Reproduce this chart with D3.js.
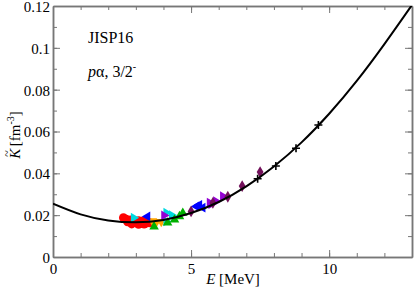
<!DOCTYPE html>
<html>
<head>
<meta charset="utf-8">
<script src="https://cdn.jsdelivr.net/npm/d3@7"></script>
<style>
  body { margin: 0; background: #fff; }
  svg text { font-family: "Liberation Serif", "Times New Roman", Times, "DejaVu Serif", serif !important; }
</style>
</head>
<body>
<div id="chart"></div>
<script>
// fitted curve
const curveE = [0, 1, 2, 3, 4, 5, 6, 7, 8, 9, 10, 11, 12, 13];
const curveK = [0.0255, 0.0204, 0.0175, 0.0166, 0.0177, 0.0210, 0.0263, 0.0338, 0.0433, 0.0548, 0.0685, 0.0842, 0.1018, 0.1205];

// data points, one pair of arrays per marker set
const redE = [2.55, 2.65, 2.8, 2.95, 3.1, 3.25, 3.4, 2.7, 2.9, 3.05, 3.2, 3.35, 3.5, 2.85, 3.1, 3.3];
const redK = [0.0188, 0.0181, 0.0177, 0.0174, 0.0173, 0.0172, 0.0172, 0.0168, 0.0164, 0.0162, 0.0161, 0.0161, 0.0163, 0.0158, 0.0156, 0.0157];
const orangeE = [3.6, 3.75, 3.92];
const orangeK = [0.0172, 0.0168, 0.0169];
const cyanE = [2.92, 4.1, 4.1, 4.3];
const cyanK = [0.0188, 0.0170, 0.0212, 0.0200];
const greenE = [3.66, 4.15, 4.4, 4.58, 4.7];
const greenK = [0.0145, 0.0164, 0.0178, 0.0194, 0.0210];
const blueE = [3.42, 5.19, 5.3, 5.42];
const blueK = [0.0194, 0.0242, 0.0250, 0.0236];
const violetE = [4.02, 5.67, 5.73, 5.9, 6.15];
const violetK = [0.0199, 0.0260, 0.0252, 0.0267, 0.0291];
const diamondE = [5.0, 5.79, 6.33, 6.85, 7.5];
const diamondK = [0.0218, 0.0259, 0.0288, 0.0339, 0.0406];
const crossE = [7.41, 8.07, 8.8, 9.61];
const crossK = [0.0374, 0.0435, 0.0520, 0.0631];

const xTicks = [0, 5, 10];
const yTicks = [0, 0.02, 0.04, 0.06, 0.08, 0.1, 0.12];

const width = 415;
const height = 290;
const margin = { top: 6, right: 3, bottom: 33, left: 53 };
const frameColor = '#777';

const svg = d3.select('#chart').append('svg')
    .attr('width', width)
    .attr('height', height);

const x = d3.scaleLinear([0, 13], [margin.left, width - margin.right]);
const y = d3.scaleLinear([0, 0.12], [height - margin.bottom, margin.top]);

// clip so the curve stays inside the frame
svg.append('clipPath').attr('id', 'clip')
  .append('rect')
    .attr('x', x(0)).attr('y', y(0.12))
    .attr('width', x(13) - x(0)).attr('height', y(0) - y(0.12));

// ticks on all four sides, pointing inwards
function drawAxis(axisFn, scale, translate, values, size, labels) {
  const g = svg.append('g')
      .attr('transform', translate)
      .call(axisFn(scale).tickValues(values).tickSize(-size).tickSizeOuter(0)
        .tickFormat(labels ? (d => d === 0 ? '0' : String(d)) : ''));
  g.attr('font-family', null);
  g.select('.domain').attr('stroke', frameColor).attr('stroke-width', 1.5);
  g.selectAll('.tick line').attr('stroke', frameColor);
  g.selectAll('.tick text').attr('fill', '#000').style('font-size', '15px');
  return g;
}

const xMinor = d3.range(0, 14);
const yMinor = d3.range(0, 13).map(i => i / 100);

drawAxis(d3.axisBottom, x, `translate(0,${y(0)})`, xMinor, 4, false);
const gx = drawAxis(d3.axisBottom, x, `translate(0,${y(0)})`, xTicks, 7, true);
gx.selectAll('.tick text').attr('dy', '0.9em').attr('y', 3);
drawAxis(d3.axisTop, x, `translate(0,${y(0.12)})`, xMinor, 4, false);
drawAxis(d3.axisTop, x, `translate(0,${y(0.12)})`, xTicks, 7, false);

drawAxis(d3.axisLeft, y, `translate(${x(0)},0)`, yMinor, 4, false);
const gy = drawAxis(d3.axisLeft, y, `translate(${x(0)},0)`, yTicks, 7, true);
gy.selectAll('.tick text').attr('x', -3).attr('dy', '0.36em');
drawAxis(d3.axisRight, y, `translate(${x(13)},0)`, yMinor, 4, false);
drawAxis(d3.axisRight, y, `translate(${x(13)},0)`, yTicks, 7, false);

// markers
const sets = [
  { E: redE, K: redK, color: '#ff0000', type: d3.symbolCircle, size: 62, rot: 0 },
  { E: orangeE, K: orangeK, color: '#ffa500', type: d3.symbolTriangle, size: 40, rot: 180 },
  { E: cyanE, K: cyanK, color: '#00d8e0', type: d3.symbolTriangle, size: 40, rot: 90 },
  { E: greenE, K: greenK, color: '#00b000', type: d3.symbolTriangle, size: 40, rot: 0 },
  { E: blueE, K: blueK, color: '#0000ff', type: d3.symbolTriangle, size: 40, rot: -90 },
  { E: violetE, K: violetK, color: '#9400d3', type: d3.symbolTriangle, size: 40, rot: 90 },
  { E: diamondE, K: diamondK, color: '#72105a', type: d3.symbolDiamond, size: 40, rot: 0 }
];

const marks = svg.append('g');
sets.forEach(s => {
  marks.selectAll(null)
    .data(s.E.map((e, i) => [e, s.K[i]]))
    .join('path')
      .attr('d', d3.symbol(s.type, s.size))
      .attr('transform', d => `translate(${x(d[0])},${y(d[1])}) rotate(${s.rot})`)
      .attr('fill', s.color);
});

// the fitted curve
svg.append('path')
    .datum(curveE.map((e, i) => [e, curveK[i]]))
    .attr('clip-path', 'url(#clip)')
    .attr('fill', 'none')
    .attr('stroke', '#000')
    .attr('stroke-width', 2)
    .attr('d', d3.line().x(d => x(d[0])).y(d => y(d[1])).curve(d3.curveNatural));

// black plus markers
svg.append('g').selectAll('path')
  .data(crossE.map((e, i) => [e, crossK[i]]))
  .join('path')
    .attr('transform', d => `translate(${x(d[0])},${y(d[1])})`)
    .attr('d', 'M-4,0H4M0,-4V4')
    .attr('stroke', '#000')
    .attr('stroke-width', 1.6);

// labels inside the plot
svg.append('text')
    .attr('x', 88).attr('y', 43)
    .style('font-size', '16px')
    .text('JISP16');

const t2 = svg.append('text')
    .attr('x', 88).attr('y', 77)
    .style('font-size', '16px');
t2.append('tspan').style('font-style', 'italic').text('p');
t2.append('tspan').text('α, 3/2');
t2.append('tspan').attr('dy', -7).style('font-size', '10px').text('-');

// axis titles
const xl = svg.append('text')
    .attr('x', 233).attr('y', 284)
    .attr('text-anchor', 'middle')
    .style('font-size', '15px');
xl.append('tspan').style('font-style', 'italic').text('E');
xl.append('tspan').text(' [MeV]');

// y title: K with a tilde placed above it
const yl = svg.append('text')
    .attr('transform', 'translate(20,135) rotate(-90)')
    .attr('text-anchor', 'middle')
    .style('font-size', '15px');
yl.append('tspan').style('font-style', 'italic').text('K');
yl.append('tspan').attr('dx', -8).attr('dy', -9).style('font-size', '12px').text('~');
yl.append('tspan').attr('dx', 4).attr('dy', 9).text('[fm');
yl.append('tspan').attr('dy', -6).style('font-size', '10px').text('-3');
yl.append('tspan').attr('dy', 6).text(']');
</script>
</body>
</html>
